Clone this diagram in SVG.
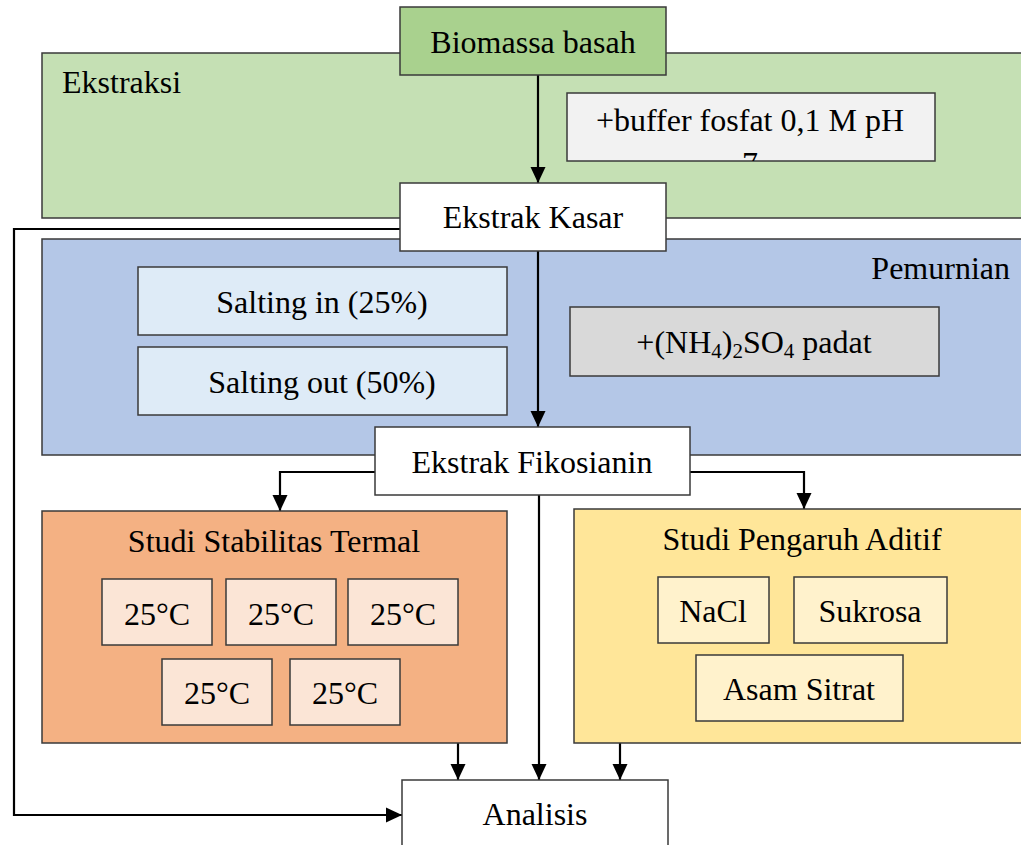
<svg xmlns="http://www.w3.org/2000/svg" width="1021" height="845" viewBox="0 0 1021 845">
<style>
text{font-family:"Liberation Serif","Times New Roman",serif;font-size:32px;fill:#000}
.c{text-anchor:middle}
.b{stroke:#3a3a3a;stroke-width:1.5}
.ln{fill:none;stroke:#000;stroke-width:2.2}
</style>
<defs>
<marker id="ah" markerUnits="userSpaceOnUse" markerWidth="16" markerHeight="16" viewBox="0 0 16 16" refX="16" refY="8" orient="auto">
<path d="M0,0.5 L16,8 L0,15.5 Z" fill="#000"/>
</marker>
<clipPath id="bufclip"><rect x="567" y="93" width="368" height="68"/></clipPath>
</defs>
<rect width="1021" height="845" fill="#fff"/>

<g id="ekstraksi">
<rect class="b" x="42" y="53" width="990" height="165" fill="#C5E0B4"/>
<text x="62" y="93">Ekstraksi</text>
</g>
<g id="pemurnian">
<rect class="b" x="42" y="239" width="990" height="216" fill="#B4C7E7"/>
<text x="1010" y="279" text-anchor="end">Pemurnian</text>
</g>

<g id="connectors">
<line class="ln" x1="538" y1="75" x2="538" y2="183" marker-end="url(#ah)"/>
<line class="ln" x1="538" y1="251" x2="538" y2="427" marker-end="url(#ah)"/>
<polyline class="ln" points="400,229 14,229 14,815 402,815" marker-end="url(#ah)"/>
<polyline class="ln" points="375,472 280,472 280,511" marker-end="url(#ah)"/>
<polyline class="ln" points="690,472 804,472 804,509" marker-end="url(#ah)"/>
<line class="ln" x1="539" y1="495" x2="539" y2="780" marker-end="url(#ah)"/>
<line class="ln" x1="458" y1="743" x2="458" y2="780" marker-end="url(#ah)"/>
<line class="ln" x1="620" y1="743" x2="620" y2="780" marker-end="url(#ah)"/>
</g>

<g id="biomassa">
<rect class="b" x="400" y="7" width="266" height="68" fill="#A9D18E"/>
<text class="c" x="533" y="53">Biomassa basah</text>
</g>
<g id="buffer">
<rect class="b" x="567" y="93" width="368" height="68" fill="#F2F2F2"/>
<g clip-path="url(#bufclip)">
<text class="c" x="750" y="131">+buffer fosfat 0,1 M pH</text>
<text class="c" x="750" y="174">7</text>
</g>
</g>
<g id="ekstrak-kasar">
<rect class="b" x="400" y="183" width="266" height="68" fill="#fff"/>
<text class="c" x="533" y="228">Ekstrak Kasar</text>
</g>
<g id="salting-in">
<rect class="b" x="138" y="267" width="369" height="68" fill="#DEEBF7"/>
<text class="c" x="322" y="313">Salting in (25%)</text>
</g>
<g id="salting-out">
<rect class="b" x="138" y="347" width="369" height="68" fill="#DEEBF7"/>
<text class="c" x="322" y="393">Salting out (50%)</text>
</g>
<g id="amonium">
<rect class="b" x="570" y="307" width="369" height="69" fill="#D9D9D9"/>
<text class="c" x="754" y="353">+(NH<tspan font-size="21" dy="5">4</tspan><tspan dy="-5">)</tspan><tspan font-size="21" dy="5">2</tspan><tspan dy="-5">SO</tspan><tspan font-size="21" dy="5">4</tspan><tspan dy="-5"> padat</tspan></text>
</g>
<g id="ekstrak-fikosianin">
<rect class="b" x="375" y="427" width="315" height="68" fill="#fff"/>
<text class="c" x="532" y="473">Ekstrak Fikosianin</text>
</g>

<g id="termal">
<rect class="b" x="42" y="511" width="465" height="232" fill="#F4B183"/>
<text class="c" x="274" y="552">Studi Stabilitas Termal</text>
<g id="t1"><rect class="b" x="102" y="579" width="110" height="66" fill="#FBE5D6"/><text class="c" x="157" y="625">25°C</text></g>
<g id="t2"><rect class="b" x="226" y="579" width="110" height="66" fill="#FBE5D6"/><text class="c" x="281" y="625">25°C</text></g>
<g id="t3"><rect class="b" x="348" y="579" width="110" height="66" fill="#FBE5D6"/><text class="c" x="403" y="625">25°C</text></g>
<g id="t4"><rect class="b" x="162" y="659" width="110" height="66" fill="#FBE5D6"/><text class="c" x="217" y="704">25°C</text></g>
<g id="t5"><rect class="b" x="290" y="659" width="110" height="66" fill="#FBE5D6"/><text class="c" x="345" y="704">25°C</text></g>
</g>

<g id="aditif">
<rect class="b" x="574" y="509" width="460" height="234" fill="#FFE699"/>
<text class="c" x="802" y="550">Studi Pengaruh Aditif</text>
<g id="nacl"><rect class="b" x="658" y="577" width="111" height="66" fill="#FFF2CC"/><text class="c" x="713" y="622">NaCl</text></g>
<g id="sukrosa"><rect class="b" x="794" y="577" width="153" height="66" fill="#FFF2CC"/><text class="c" x="870" y="622">Sukrosa</text></g>
<g id="asam"><rect class="b" x="696" y="655" width="207" height="66" fill="#FFF2CC"/><text class="c" x="799" y="700">Asam Sitrat</text></g>
</g>

<g id="analisis">
<rect class="b" x="402" y="780" width="266" height="80" fill="#fff"/>
<text class="c" x="535" y="825">Analisis</text>
</g>
</svg>
